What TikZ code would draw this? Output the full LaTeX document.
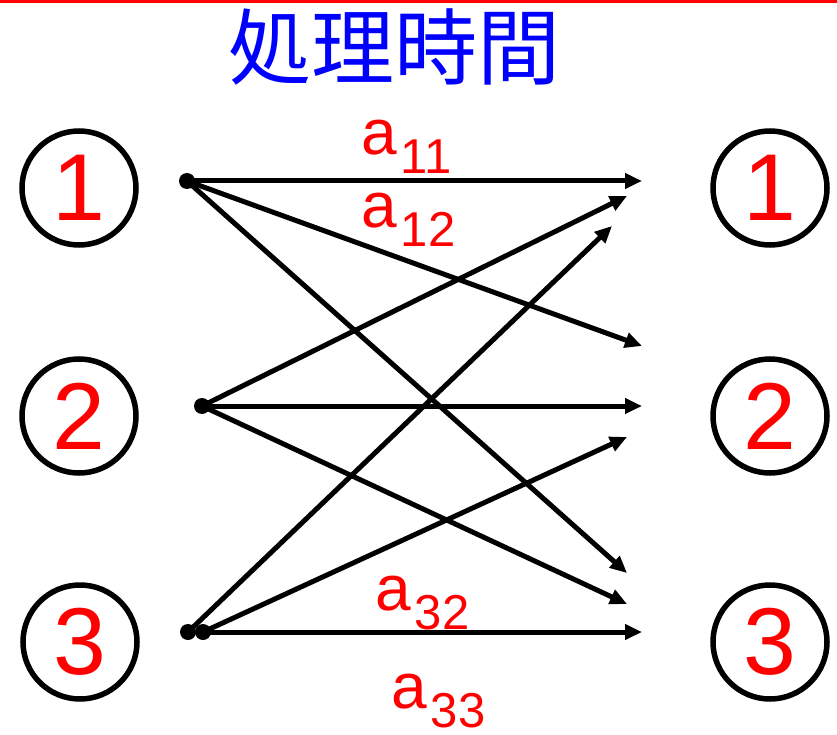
\documentclass[tikz,border=0pt]{standalone}
\usepackage{fontspec}
\setmainfont{Liberation Sans}
\newfontfamily\cjk{Noto Sans CJK JP}
\usetikzlibrary{arrows.meta}
\definecolor{pred}{RGB}{255,0,0}
\definecolor{pblue}{RGB}{0,0,255}
\tikzset{
  numcirc/.style={circle, draw=black, line width=5.5pt, minimum size=114pt, inner sep=0pt,
    text=pred, font=\fontsize{95}{95}\selectfont},
  dotnode/.style={circle, fill=black, minimum size=16pt, inner sep=0pt},
  conn/.style={line width=5pt, -{Triangle[length=17pt,width=15pt]}},
  lab/.style={anchor=base west, inner sep=0pt, text=pred, font=\fontsize{64}{64}\selectfont}
}
\newcommand{\subx}[1]{\kern4pt\raisebox{-19pt}{\fontsize{49}{49}\selectfont #1}}
\begin{document}
\begin{tikzpicture}[x=1pt,y=-1pt]
\useasboundingbox (0,0) rectangle (837,735);
\fill[pred] (0,0) rectangle (837,3);
\node[text=pblue, font=\cjk\fontsize{83}{83}\selectfont, inner sep=0pt] (title) at (394,47) {処理時間};
% circles
\node[numcirc] (L1) at (79,188) {1};
\node[numcirc] (L2) at (79,416) {2};
\node[numcirc] (L3) at (80,642) {3};
\node[numcirc] (R1) at (770,188) {1};
\node[numcirc] (R2) at (770,416) {2};
\node[numcirc] (R3) at (770,642) {3};
% dots
\node[dotnode] (d1) at (187,181) {};
\node[dotnode] (d2) at (202,406) {};
\node[dotnode] (d3a) at (188,632) {};
\node[dotnode] (d3b) at (203,632) {};
% arrow tips
\coordinate (t11) at (642,181);
\coordinate (t12) at (642,346);
\coordinate (t13) at (627,573);
\coordinate (t21) at (627,196);
\coordinate (t22) at (642,406);
\coordinate (t23) at (627,604);
\coordinate (t31) at (612,226);
\coordinate (t32) at (627,437);
\coordinate (t33) at (642,632);
\draw[conn] (d1.center) -- (t11);
\draw[conn] (d1.center) -- (t12);
\draw[conn] (d1.center) -- (t13);
\draw[conn] (d2.center) -- (t21);
\draw[conn] (d2.center) -- (t22);
\draw[conn] (d2.center) -- (t23);
\draw[conn] (d3a.center) -- (t31);
\draw[conn] (d3b.center) -- (t32);
\draw[conn] (d3b.center) -- (t33);
% labels
\node[lab] (a11) at (361,155) {a\subx{11}};
\node[lab] (a12) at (361,228) {a\subx{12}};
\node[lab] (a32) at (375,610) {a\subx{32}};
\node[lab] (a33) at (391,708) {a\subx{33}};
\end{tikzpicture}
\end{document}
